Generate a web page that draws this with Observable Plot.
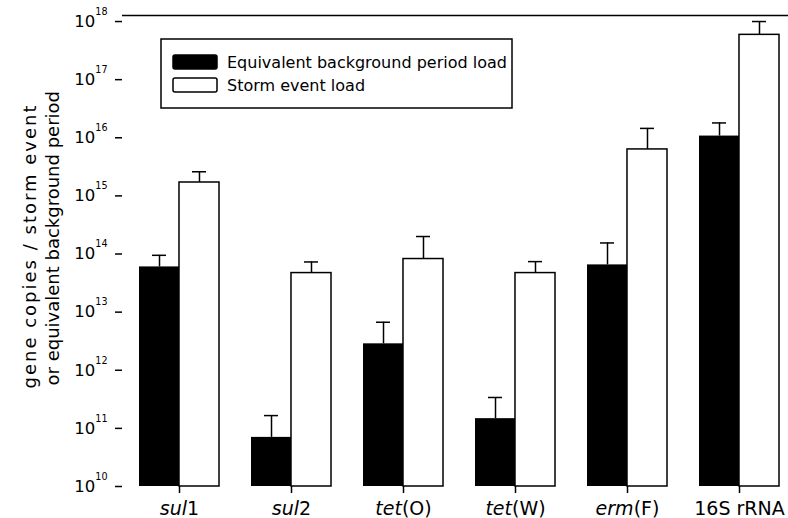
<!DOCTYPE html>
<html><head><meta charset="utf-8">
<script src="https://cdn.jsdelivr.net/npm/d3@7"></script>
<script src="https://cdn.jsdelivr.net/npm/@observablehq/plot@0.6"></script>
<style>
body{margin:0;background:#fff}
#chart svg{font-family:"DejaVu Sans",sans-serif}
</style>
</head><body><div id="chart"></div>
<script>
const categories = ["sul1","sul2","tet(O)","tet(W)","erm(F)","16S rRNA"];
const italicPart = ["sul","sul","tet","tet","erm",""];
const series = ["Equivalent background period load","Storm event load"];
const background = [6.0e13, 7.0e10, 2.85e12, 1.47e11, 6.5e13, 1.07e16];
const backgroundErr = [9.5e13, 1.66e11, 6.7e12, 3.4e11, 1.55e14, 1.8e16];
const storm = [1.7e15, 4.7e13, 8.2e13, 4.7e13, 6.3e15, 5.9e17];
const stormErr = [2.6e15, 7.3e13, 2.0e14, 7.4e13, 1.45e16, 1.0e18];
const yTicks = [1e10,1e11,1e12,1e13,1e14,1e15,1e16,1e17,1e18];
const yLabel1 = "gene copies / storm event";
const yLabel2 = "or equivalent background period";

const yMin = 1e10, yMax = 1.27e18;
const xRange = [122, 795], pi = 0.288, po = 0.14;
const step = (xRange[1]-xRange[0])/(categories.length - pi + 2*po);
const bw = step*(1-pi), half = bw/2, cap = 14;

const bgRows = categories.map((c,i)=>({cat:c, value:background[i], err:backgroundErr[i]}));
const stRows = categories.map((c,i)=>({cat:c, value:storm[i], err:stormErr[i]}));

const plot = Plot.plot({
  width: 788, height: 518,
  marginLeft: 122, marginRight: 0, marginTop: 15, marginBottom: 32,
  style: {fontFamily: "DejaVu Sans", background: "white", color: "black"},
  x: {domain: categories, range: xRange, paddingInner: pi, paddingOuter: po},
  y: {type: "log", domain: [yMin, yMax]},
  marks: [
    Plot.barY(bgRows, {x: "cat", y1: d => yMin, y2: "value", fill: "black", insetRight: half}),
    Plot.barY(stRows, {x: "cat", y1: d => yMin, y2: "value", fill: "white", stroke: "black", strokeWidth: 1.5, insetLeft: half}),
    Plot.ruleX(bgRows, {x: "cat", y1: "value", y2: "err", dx: -half/2, strokeWidth: 1.5}),
    Plot.tickY(bgRows, {x: "cat", y: "err", insetLeft: half/2 - cap/2, insetRight: bw - half/2 - cap/2, strokeWidth: 1.5}),
    Plot.ruleX(stRows, {x: "cat", y1: "value", y2: "err", dx: half/2, strokeWidth: 1.5}),
    Plot.tickY(stRows, {x: "cat", y: "err", insetLeft: bw - half/2 - cap/2, insetRight: half/2 - cap/2, strokeWidth: 1.5}),
    Plot.ruleY([yMax], {strokeWidth: 1.5}),
    Plot.axisY({ticks: yTicks, tickSize: 7, tickPadding: 8, fontSize: 16.5, strokeWidth: 1.5, line: true, label: null,
      tickFormat: d => "10^" + Math.round(Math.log10(d))}),
    Plot.axisX({tickSize: 7, tickPadding: 8, fontSize: 19, strokeWidth: 1.5, line: true, label: null}),
    Plot.text([yLabel1], {text: d => d, frameAnchor: "left", textAnchor: "start", rotate: -90, dx: -92, dy: 137.5, fontSize: 18}),
    Plot.text([yLabel2], {text: d => d, frameAnchor: "left", textAnchor: "start", rotate: -90, dx: -69, dy: 134.5, fontSize: 18})
  ]
});
document.getElementById("chart").appendChild(plot);

const svg = d3.select(plot);
// superscript exponents on y tick labels
svg.selectAll('g[aria-label="y-axis tick label"] text').each(function(){
  const s = this.textContent;
  const m = s.match(/^10\^(\d+)$/);
  if (!m) return;
  const t = d3.select(this);
  t.text(null);
  t.append("tspan").text("10");
  t.append("tspan").attr("font-size", 9.6).attr("dy", -12).text(m[1]);
});
// italic gene names on x tick labels
svg.selectAll('g[aria-label="x-axis tick label"] text').each(function(){
  const s = this.textContent;
  const i = categories.indexOf(s);
  if (i < 0) return;
  const it = italicPart[i];
  const t = d3.select(this);
  t.text(null);
  if (it) t.append("tspan").attr("font-style", "italic").text(it);
  t.append("tspan").text(s.slice(it.length));
});
// wider spacing for first y label line (matches reference length)
svg.selectAll("text").filter(function(){ return this.textContent.includes("storm event"); })
  .style("letter-spacing", "2px");

// legend box
const lg = svg.append("g").attr("font-family", "DejaVu Sans").attr("font-size", 16).attr("text-anchor", "start");
lg.append("rect").attr("x", 161).attr("y", 39).attr("width", 351).attr("height", 69)
  .attr("fill", "white").attr("stroke", "black").attr("stroke-width", 1.5);
const swFill = ["black", "white"];
series.forEach((s, i) => {
  const y = i === 0 ? 55 : 78;
  lg.append("rect").attr("x", 173).attr("y", y).attr("width", 44).attr("height", 14).attr("rx", 2)
    .attr("fill", swFill[i]).attr("stroke", "black").attr("stroke-width", 1.5);
  lg.append("text").attr("x", 227).attr("y", y + 7).attr("dy", "0.36em").attr("fill", "black").attr("text-anchor", "start").text(s);
});
</script>
</body></html>
